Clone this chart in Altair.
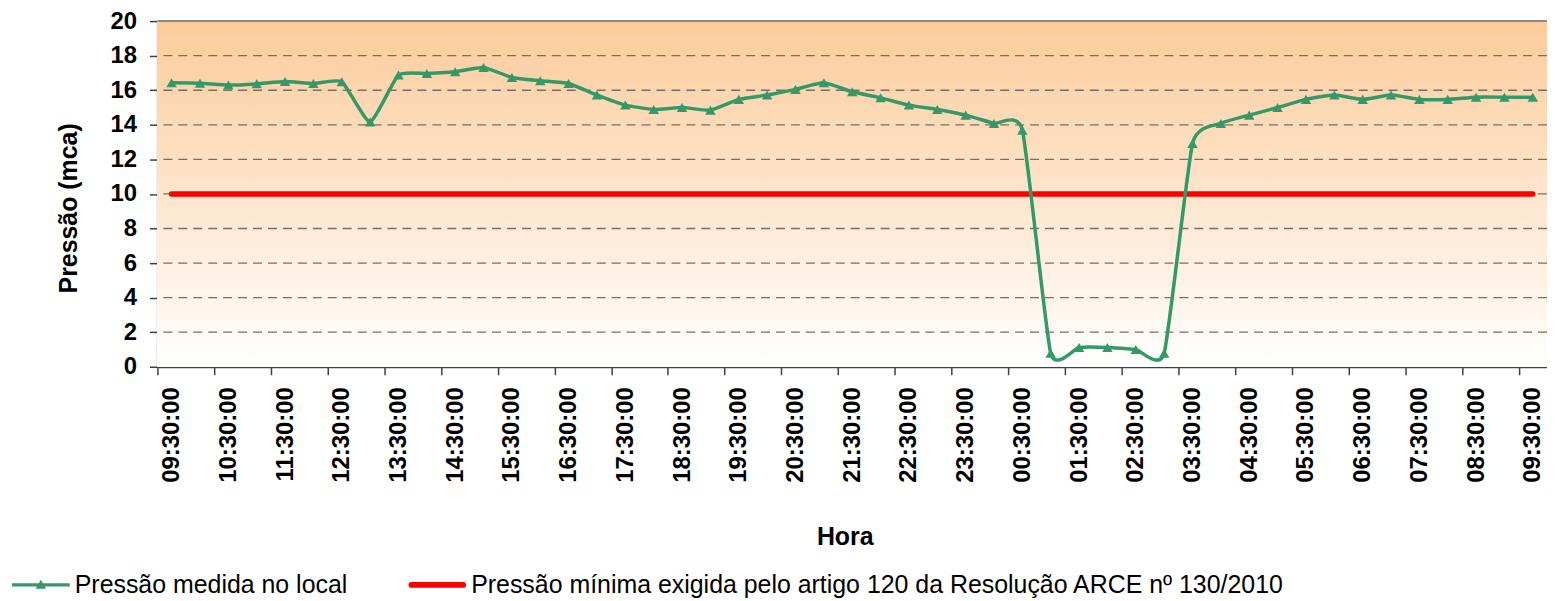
import altair as alt
import pandas as pd

# ---------------- data ----------------
horas = [
    "09:30:00", "10:00:00", "10:30:00", "11:00:00", "11:30:00", "12:00:00", "12:30:00",
    "13:00:00", "13:30:00", "14:00:00", "14:30:00", "15:00:00", "15:30:00", "16:00:00",
    "16:30:00", "17:00:00", "17:30:00", "18:00:00", "18:30:00", "19:00:00", "19:30:00",
    "20:00:00", "20:30:00", "21:00:00", "21:30:00", "22:00:00", "22:30:00", "23:00:00",
    "23:30:00", "00:00:00", "00:30:00", "01:00:00", "01:30:00", "02:00:00", "02:30:00",
    "03:00:00", "03:30:00", "04:00:00", "04:30:00", "05:00:00", "05:30:00", "06:00:00",
    "06:30:00", "07:00:00", "07:30:00", "08:00:00", "08:30:00", "09:00:00", "09:30:00",
]
pressao = [
    16.43, 16.41, 16.30, 16.37, 16.51, 16.39, 16.49, 14.17, 16.88, 16.97,
    17.07, 17.32, 16.74, 16.55, 16.39, 15.72, 15.14, 14.89, 15.00, 14.85,
    15.47, 15.72, 16.05, 16.43, 15.91, 15.56, 15.14, 14.89, 14.56, 14.08,
    13.69, 0.78, 1.12, 1.12, 1.00, 0.78, 12.92, 14.08, 14.56, 15.00,
    15.47, 15.72, 15.47, 15.72, 15.47, 15.47, 15.60, 15.60, 15.60,
]
limite_minimo = 10
grade_y = [2, 4, 6, 8, 10, 12, 14, 16, 18]
ticks_y = [0, 2, 4, 6, 8, 10, 12, 14, 16, 18, 20]
series = [
    "Pressão medida no local",
    "Pressão mínima exigida pelo artigo 120 da Resolução ARCE nº 130/2010",
]

# ---------------- styling / layout ----------------
FONT = "Liberation Sans"
VERDE = "#339966"
VERMELHO = "#FF0000"
W, H = 1395, 347
NCAT = len(horas)
cat_px = W / NCAT

df = pd.DataFrame({"idx": list(range(NCAT)), "hora": horas, "pressao": pressao})
df_lim = pd.DataFrame({"ini": [0], "fim": [NCAT - 1], "valor": [limite_minimo]})
df_grade = pd.DataFrame({"g": grade_y})
df_leg = pd.DataFrame({"serie": series})

x_scale = alt.Scale(domain=[-0.5, NCAT - 0.5], nice=False, zero=False)
y_scale = alt.Scale(domain=[0, 20], nice=False, zero=True)

label_js = "[" + ",".join("'" + h + "'" for h in horas) + "][datum.value]"

x_axis = alt.Axis(
    values=list(range(0, NCAT, 2)), labelExpr=label_js, labelAngle=270,
    labelFont=FONT, labelFontSize=24, labelFontWeight="bold", labelColor="#000000",
    labelPadding=12, labelFlush=False, labelOverlap=False,
    tickOffset=-cat_px / 2, labelOffset=cat_px / 2,
    tickSize=8, tickColor="#404040", tickWidth=1.5,
    domainColor="#404040", domainWidth=2, grid=False,
    title="Hora", titleFont=FONT, titleFontSize=25, titleFontWeight="bold",
    titleColor="#000000", titleX=690, titleY=178, titleAlign="center",
    titleBaseline="alphabetic",
)
y_axis = alt.Axis(
    values=ticks_y, labelFont=FONT, labelFontSize=24, labelFontWeight="bold",
    labelColor="#000000", labelPadding=13, labelFlush=False,
    tickSize=8, tickColor="#404040", tickWidth=1.5,
    domainColor="#404040", domainWidth=2, grid=False,
    title="Pressão (mca)", titleFont=FONT, titleFontSize=25, titleFontWeight="bold",
    titleColor="#000000", titleX=-81, titleY=187.5, titleAngle=270,
    titleAlign="center", titleBaseline="alphabetic",
)

gradiente = alt.Gradient(
    gradient="linear",
    stops=[alt.GradientStop(color="#FCCB9B", offset=0),
           alt.GradientStop(color="#FFFFFF", offset=1)],
    x1=0, x2=0, y1=0, y2=1,
)

fundo = alt.Chart(df).mark_rect(fill=gradiente, strokeWidth=0).encode(
    x=alt.value(0), x2=alt.value(W), y=alt.value(0), y2=alt.value(H)
)

grade = alt.Chart(df_grade).mark_rule(
    strokeDash=[9, 6], color="#7a6e64", strokeWidth=1.3
).encode(y=alt.Y("g:Q", scale=y_scale, axis=y_axis))

borda = alt.Chart(df_lim).mark_rule(color="#8a8a8a", strokeWidth=2).encode(
    x=alt.value(0), x2=alt.value(W), y=alt.value(0)
)

minimo = alt.Chart(df_lim).mark_rule(
    color=VERMELHO, strokeWidth=5.5, strokeCap="round"
).encode(
    x=alt.X("ini:Q", scale=x_scale, axis=x_axis),
    x2="fim:Q",
    y=alt.Y("valor:Q", scale=y_scale, axis=y_axis),
)

linha = alt.Chart(df).mark_line(
    color=VERDE, strokeWidth=3.5, interpolate="cardinal", tension=0.5
).encode(
    x=alt.X("idx:Q", scale=x_scale, axis=x_axis),
    y=alt.Y("pressao:Q", scale=y_scale, axis=y_axis),
)

pontos = alt.Chart(df).mark_point(
    shape="triangle-up", filled=True, size=110, color=VERDE, opacity=1
).encode(
    x=alt.X("idx:Q", scale=x_scale, axis=x_axis),
    y=alt.Y("pressao:Q", scale=y_scale, axis=y_axis),
)

PATH_G = "M-1,-0.055H1V0.055H-1Z M0,-0.18L0.18,0.13H-0.18Z"
PATH_R = "M-0.9,-0.1H0.9A0.1,0.1 0 0 1 0.9,0.1H-0.9A0.1,0.1 0 0 1 -0.9,-0.1Z"

leg = alt.Legend(
    title=None, orient="none", legendX=-146, legendY=537, direction="horizontal",
    columns=2, columnPadding=60, labelFont=FONT, labelFontSize=25,
    labelColor="#000000", labelLimit=1400, labelOffset=5, symbolSize=3364,
    symbolStrokeWidth=0, padding=0, rowPadding=0, symbolOpacity=1,
)

legenda = alt.Chart(df_leg).transform_filter("false").mark_point(
    filled=True, opacity=1
).encode(
    color=alt.Color("serie:N", scale=alt.Scale(domain=series, range=[VERDE, VERMELHO]), legend=leg),
    shape=alt.Shape("serie:N", scale=alt.Scale(domain=series, range=[PATH_G, PATH_R]), legend=leg),
)

chart = alt.layer(fundo, grade, borda, minimo, linha, pontos, legenda).properties(
    width=W, height=H,
    autosize=alt.AutoSizeParams(type="none"),
    padding={"left": 150, "top": 12, "right": 0, "bottom": 234},
).configure_view(stroke=None).configure(font=FONT, background="#FFFFFF")

chart.save("out.html", embed_options={"renderer": "svg", "actions": False})
